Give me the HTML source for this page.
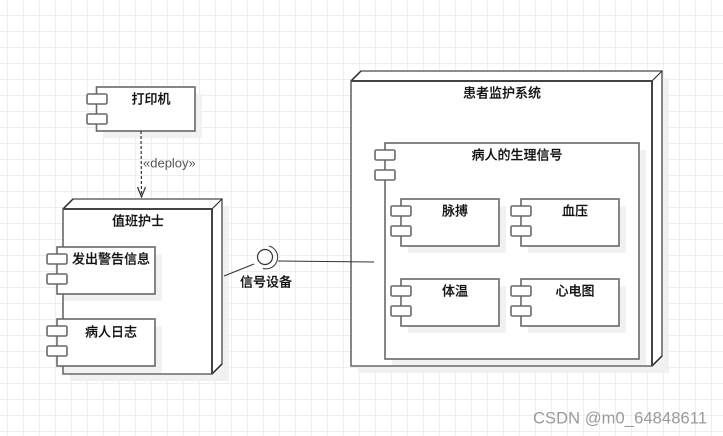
<!DOCTYPE html>
<html>
<head>
<meta charset="utf-8">
<style>
html,body{margin:0;padding:0;background:#fff;}
svg{display:block;}
text{font-family:"Liberation Sans","Noto Sans CJK SC",sans-serif;}
.t{font-size:13px;fill:#111;stroke:#111;stroke-width:.15;text-anchor:middle;dominant-baseline:central;font-weight:500;}
.b{fill:#fff;stroke:#686868;stroke-width:1.6;}
.s{fill:#f1f1f1;}
</style>
</head>
<body>
<svg width="723" height="436" viewBox="0 0 723 436" xmlns="http://www.w3.org/2000/svg">
<defs>
<pattern id="g" x="7" y="15" width="16" height="16" patternUnits="userSpaceOnUse">
<rect x="0" y="0" width="1" height="16" fill="#eeeeee"/>
<rect x="0" y="0" width="16" height="1" fill="#eeeeee"/>
</pattern>
</defs>
<rect width="723" height="436" fill="#fff"/>
<rect width="723" height="436" fill="url(#g)"/>

<!-- printer -->
<rect class="s" x="103" y="94" width="99" height="44"/>
<rect class="b" x="96.500" y="87" width="98.500" height="44"/>
<rect class="b" x="87" y="94" width="20" height="10" rx="1.500"/>
<rect class="b" x="87" y="114" width="20" height="10" rx="1.500"/>
<text class="t" x="151" y="99">打印机</text>

<!-- deploy -->
<line x1="141" y1="131" x2="141.500" y2="197" stroke="#333" stroke-width="1.200" stroke-dasharray="3 2"/>
<path d="M137.500 187 L141.500 197 L145.500 187" fill="none" stroke="#333" stroke-width="1.200"/>
<text x="143" y="167.500" style="font-size:13px;fill:#555">«deploy»</text>

<!-- nurse node -->
<rect class="s" x="70" y="206" width="159" height="175"/>
<path class="b" d="M63 209 L73 199 L222 199 L222 364 L212 374 L63 374 Z"/>
<path d="M63 209 L73 199 M212 209 L222 199 M212 374 L222 364" stroke="#222" stroke-width="1" fill="none"/>
<path d="M63 209 L212 209 L212 374" fill="none" stroke="#444" stroke-width="2"/>
<text class="t" x="138" y="221">值班护士</text>

<rect class="s" x="64" y="254" width="98" height="47"/>
<rect class="b" x="57" y="247" width="98" height="47"/>
<rect class="b" x="47" y="254" width="20" height="10" rx="1.500"/>
<rect class="b" x="47" y="274" width="20" height="10" rx="1.500"/>
<text class="t" x="111" y="259">发出警告信息</text>

<rect class="s" x="64" y="326" width="98" height="47"/>
<rect class="b" x="57" y="319" width="98" height="47"/>
<rect class="b" x="47" y="326" width="20" height="10" rx="1.500"/>
<rect class="b" x="47" y="346" width="20" height="10" rx="1.500"/>
<text class="t" x="111" y="332">病人日志</text>

<!-- system node -->
<rect class="s" x="358" y="78" width="311" height="295"/>
<path class="b" d="M351 81 L361 71 L662 71 L662 356 L652 366 L351 366 Z"/>
<path d="M351 81 L361 71 M652 81 L662 71 M652 366 L662 356" stroke="#222" stroke-width="1" fill="none"/>
<path d="M351 81 L652 81 L652 366" fill="none" stroke="#444" stroke-width="2"/>
<text class="t" x="502" y="93">患者监护系统</text>

<rect class="s" x="392" y="150" width="254" height="215"/>
<rect class="b" x="385" y="143" width="254" height="216"/>
<rect class="b" x="375" y="150" width="20" height="10" rx="1.500"/>
<rect class="b" x="375" y="170" width="20" height="10" rx="1.500"/>
<text class="t" x="517" y="155">病人的生理信号</text>

<rect class="s" x="408" y="206" width="98" height="47"/>
<rect class="b" x="401" y="199" width="98" height="47"/>
<rect class="b" x="391" y="206" width="20" height="10" rx="1.500"/>
<rect class="b" x="391" y="226" width="20" height="10" rx="1.500"/>
<text class="t" x="455" y="211">脉搏</text>

<rect class="s" x="528" y="206" width="98" height="47"/>
<rect class="b" x="521" y="199" width="98" height="47"/>
<rect class="b" x="511" y="206" width="20" height="10" rx="1.500"/>
<rect class="b" x="511" y="226" width="20" height="10" rx="1.500"/>
<text class="t" x="575" y="211">血压</text>

<rect class="s" x="408" y="286" width="98" height="47"/>
<rect class="b" x="401" y="279" width="98" height="47"/>
<rect class="b" x="391" y="286" width="20" height="10" rx="1.500"/>
<rect class="b" x="391" y="306" width="20" height="10" rx="1.500"/>
<text class="t" x="455" y="291">体温</text>

<rect class="s" x="528" y="286" width="98" height="47"/>
<rect class="b" x="521" y="279" width="98" height="47"/>
<rect class="b" x="511" y="286" width="20" height="10" rx="1.500"/>
<rect class="b" x="511" y="306" width="20" height="10" rx="1.500"/>
<text class="t" x="575" y="291">心电图</text>

<!-- interface -->
<line x1="224" y1="276" x2="254" y2="264" stroke="#333" stroke-width="1"/>
<circle cx="265" cy="257" r="7.500" fill="#fff" stroke="#333" stroke-width="1.200"/>
<path d="M269 246 A11.500 11.500 0 0 1 263 268.500" fill="none" stroke="#333" stroke-width="1"/>
<line x1="278" y1="261" x2="374" y2="262" stroke="#333" stroke-width="1"/>
<text class="t" x="266" y="282">信号设备</text>

<!-- watermark -->
<text x="533" y="423.500" textLength="174" lengthAdjust="spacing" style="font-size:16.500px;fill:#9a9a9a">CSDN @m0_64848611</text>
</svg>
</body>
</html>
